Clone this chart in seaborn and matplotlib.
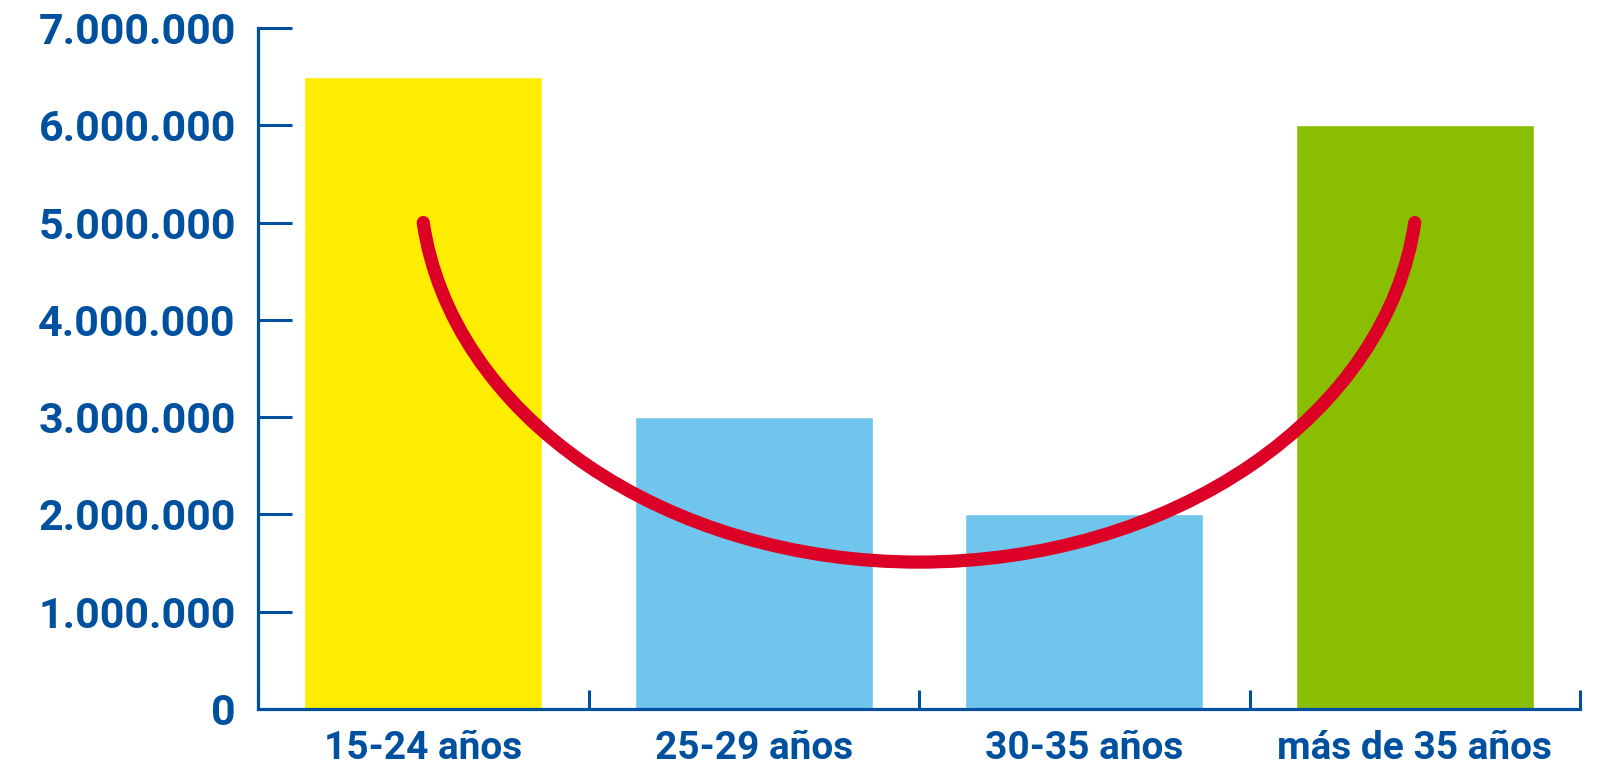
import matplotlib
matplotlib.use("Agg")
import numpy as np
import matplotlib.pyplot as plt
from matplotlib.patches import Arc
from matplotlib.ticker import FuncFormatter
import pandas as pd
import seaborn as sns

# ---------------------------------------------------------------------------
# DATA
# ---------------------------------------------------------------------------
categories = ["15-24 años", "25-29 años", "30-35 años", "más de 35 años"]
values = [6500000, 3000000, 2000000, 6000000]
bar_colors = ["#FFED00", "#70C5EC", "#70C5EC", "#8ABE00"]

# red "U" curve: end points, lowest point, ellipse centre height
curve_x = [0, 3]
curve_end_y = 5000000
curve_min_y = 1510000
curve_center_y = 5440000

y_ticks = [0, 1000000, 2000000, 3000000, 4000000, 5000000, 6000000, 7000000]

BLUE = "#0050A0"
RED = "#DC0026"

sns.set_style("white")
plt.rcParams["font.family"] = ["Roboto", "DejaVu Sans"]

df = pd.DataFrame({"grupo": categories, "valor": values})

fig = plt.figure(figsize=(16.18, 7.80), dpi=100)
ax = fig.add_axes([258 / 1618, 71 / 780, 1322 / 1618, 681 / 780])

sns.barplot(data=df, x="grupo", y="valor", hue="grupo", palette=bar_colors,
            width=0.72, saturation=1, legend=False, ax=ax)

# arc of an ellipse through the two end points and the lowest point
cx = (curve_x[0] + curve_x[1]) / 2
half = (curve_x[1] - curve_x[0]) / 2
b = curve_center_y - curve_min_y
ratio = (curve_center_y - curve_end_y) / b
a = half / np.sqrt(1 - ratio ** 2)
w, h = 2 * a, 2 * b
t1 = np.pi + np.arcsin(ratio)          # parametric angles of the end points
t2 = 2 * np.pi - np.arcsin(ratio)
# Arc stretches the given angles by width/height, so pass the matching ones
th1 = np.degrees(np.arctan2(h * np.sin(t1), w * np.cos(t1))) % 360
th2 = np.degrees(np.arctan2(h * np.sin(t2), w * np.cos(t2))) % 360
arc = Arc((cx, curve_center_y), w, h, theta1=th1, theta2=th2,
          color=RED, lw=9.5, capstyle="round", zorder=5)
ax.add_patch(arc)

ax.set_xlim(-0.5, 3.5)
ax.set_ylim(0, 7000000)
ax.set_xlabel("")
ax.set_ylabel("")

for s in ["top", "right"]:
    ax.spines[s].set_visible(False)
for s in ["left", "bottom"]:
    ax.spines[s].set_color(BLUE)
    ax.spines[s].set_linewidth(2.3)
    ax.spines[s].set_capstyle("projecting")

ax.set_yticks(y_ticks)
ax.yaxis.set_major_formatter(FuncFormatter(lambda v, p: f"{int(v):,}".replace(",", ".")))
ax.tick_params(axis="y", left=True, direction="in", length=24.5, width=2.2, color=BLUE,
               labelcolor=BLUE, labelsize=31, pad=16)
for lab in ax.get_yticklabels():
    lab.set_fontweight("bold")
ax.yaxis.get_major_ticks()[0].tick1line.set_visible(False)

# category labels at bar centres, tick marks at category boundaries
ax.set_xticks(range(len(categories)))
ax.set_xticklabels(categories, fontsize=28, fontweight="bold", color=BLUE)
ax.tick_params(axis="x", bottom=True, length=0, pad=15)
ax.set_xticks([-0.5, 0.5, 1.5, 2.5, 3.5], minor=True)
ax.tick_params(axis="x", which="minor", bottom=True, direction="in", length=14,
               width=2.2, color=BLUE)

fig.savefig("out.png", dpi=100)
plt.close(fig)
